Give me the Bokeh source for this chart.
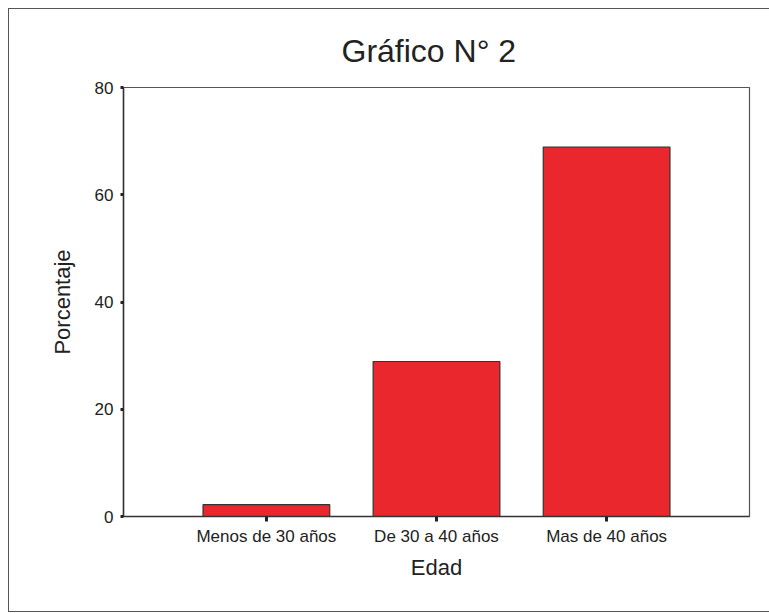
from bokeh.plotting import figure
from bokeh.embed import file_html
from bokeh.resources import INLINE
from bokeh.layouts import column
from bokeh.models import ColumnDataSource, FixedTicker, Title

categories = ["Menos de 30 años", "De 30 a 40 años", "Mas de 40 años"]
porcentaje = [2.2, 28.9, 68.9]
y_ticks = [0, 20, 40, 60, 80]

positions = list(range(1, len(categories) + 1))
src = ColumnDataSource(dict(x=positions, top=porcentaje, cat=categories))

FONT = "Liberation Sans"

p = figure(width=760, height=602, output_backend="svg", toolbar_location=None,
           x_range=(0.16, 3.84), y_range=(0, 80),
           min_border_left=114, min_border_right=20, min_border_top=78, min_border_bottom=95)

p.vbar(x="x", top="top", bottom=0, width=0.745, source=src,
       fill_color="#e9272d", line_color="#333333", line_width=1.2)

t = Title(text="Gráfico N° 2", align="left", text_font=FONT, text_font_size="32px",
          text_font_style="normal", text_color="#222222", standoff=37, offset=218)
p.add_layout(t, "above")

p.xgrid.visible = False
p.ygrid.visible = False
p.outline_line_color = "#555555"
p.outline_line_width = 1.2

p.xaxis.ticker = FixedTicker(ticks=positions)
p.xaxis.major_label_overrides = {i: c for i, c in zip(positions, categories)}
p.yaxis.ticker = FixedTicker(ticks=y_ticks)

for ax in (p.xaxis[0], p.yaxis[0]):
    ax.axis_line_color = "#333333"
    ax.axis_line_width = 1.5
    ax.major_tick_in = 0
    ax.major_tick_line_color = "#222222"
    ax.major_tick_line_width = 3
    ax.minor_tick_line_color = None
    ax.major_label_text_font = FONT
    ax.major_label_text_font_size = "17px"
    ax.major_label_text_color = "#222222"
    ax.axis_label_text_font = FONT
    ax.axis_label_text_font_size = "22px"
    ax.axis_label_text_font_style = "normal"
    ax.axis_label_text_color = "#222222"

p.yaxis.major_tick_out = 3
p.yaxis.major_label_standoff = 7
p.yaxis.axis_label = "Porcentaje"
p.yaxis.axis_label_standoff = 17
p.xaxis.major_tick_out = 5
p.xaxis.major_label_standoff = 5
p.xaxis.axis_label = "Edad"
p.xaxis.axis_label_standoff = 6

page = column(p, styles={"margin-left": "8px", "margin-top": "8px",
                         "border-left": "1px solid #555", "border-top": "1px solid #555",
                         "border-bottom": "1px solid #555"})

open("out.html", "w").write(file_html(page, INLINE))
